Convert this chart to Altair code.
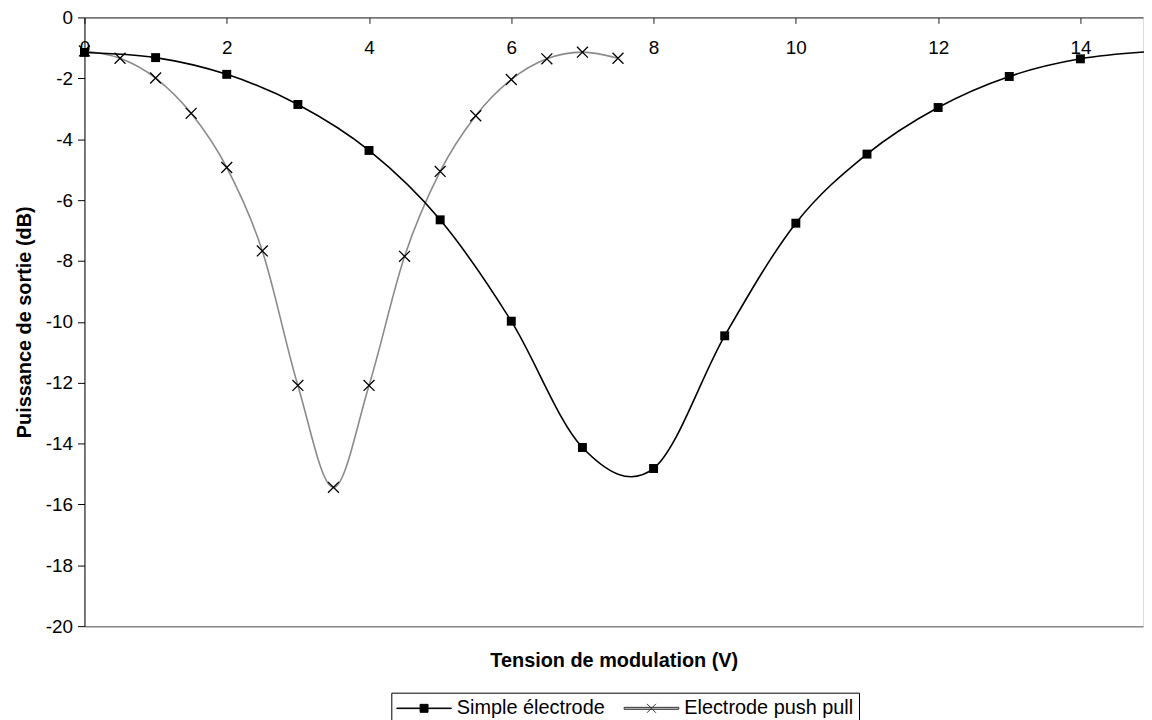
import altair as alt
import pandas as pd

# ---- data ----
series_names = ["Simple électrode", "Electrode push pull"]

simple_x = [0, 1, 2, 3, 4, 5, 6, 7, 8, 9, 10, 11, 12, 13, 14, 15]
simple_y = [-1.15, -1.32, -1.87, -2.86, -4.37, -6.65, -9.98, -14.13, -14.82,
            -10.46, -6.76, -4.49, -2.96, -1.94, -1.36, -1.12]

pp_x = [0, 0.5, 1, 1.5, 2, 2.5, 3, 3.5, 4, 4.5, 5, 5.5, 6, 6.5, 7, 7.5]
pp_y = [-1.10, -1.34, -1.99, -3.15, -4.93, -7.67, -12.09, -15.44, -12.09,
        -7.85, -5.06, -3.23, -2.04, -1.36, -1.14, -1.34]

x_ticks = [0, 2, 4, 6, 8, 10, 12, 14]
y_ticks = [-20, -18, -16, -14, -12, -10, -8, -6, -4, -2, 0]

df_s = pd.DataFrame({"x": simple_x, "y": simple_y, "entry": series_names[0]})
df_p = pd.DataFrame({"x": pp_x, "y": pp_y, "entry": series_names[1]})
df_all = pd.concat([df_s, df_p], ignore_index=True)

FONT = "Liberation Sans"
W, H = 1066, 613
PAD_L, PAD_T = 77, 7
SVG_W, SVG_H = 1144, 712

X_PATH = "M-1,-1L1,1M-1,1L1,-1"
LEG_SIMPLE = "M-1,-0.03L4.5,-0.03L4.5,0.03L-1,0.03Z M1.35,-0.4L2.15,-0.4L2.15,0.4L1.35,0.4Z"
LEG_PP = "M-1,-0.1L4.5,-0.1L4.5,0.1L-1,0.1Z M1.3,-0.45L2.2,0.45 M1.3,0.45L2.2,-0.45"

xscale = alt.Scale(domain=[0, 14.88], nice=False, zero=False)
yscale = alt.Scale(domain=[-20, 0], nice=False, zero=False)
ytitle = "Puissance de sortie (dB)"

y_axis = alt.Axis(values=y_ticks, grid=False, tickSize=7, labelPadding=5, labelFontSize=19,
                  labelExpr="'' + datum.value",
                  domainColor="#000000", tickColor="#000000", labelColor="#000000",
                  titleFontSize=20, titleFontWeight="bold", titleColor="#000000",
                  titlePadding=15, titleBaseline="alphabetic")

top_axis = alt.Axis(orient="bottom", offset=-H, values=x_ticks, grid=False, tickSize=6,
                    labelPadding=15, labelFontSize=19, labelColor="#000000",
                    domainColor="#222222", tickColor="#222222", title=None,
                    labelFlush=False, labelOverlap=False)

bottom_axis = alt.Axis(orient="bottom", labels=False, ticks=False, grid=False,
                       domainColor="#888888", domainWidth=1.5,
                       title="Tension de modulation (V)", titleFontSize=20,
                       titleFontWeight="bold", titleColor="#000000", titlePadding=25)

line_p = alt.Chart(df_p).mark_line(interpolate="cardinal", strokeWidth=1.6,
                                   color="#8a8a8a").encode(
    x=alt.X("x:Q", scale=xscale, axis=top_axis),
    y=alt.Y("y:Q", scale=yscale, axis=y_axis, title=ytitle),
)

line_s = alt.Chart(df_s).mark_line(interpolate="cardinal", strokeWidth=1.6,
                                   color="#000000").encode(
    x=alt.X("x:Q", scale=xscale, axis=None),
    y=alt.Y("y:Q", scale=yscale, title=ytitle),
)

pts_s = alt.Chart(df_s).mark_point(shape="square", filled=True, size=81,
                                   color="#000000", opacity=1).encode(
    x=alt.X("x:Q", scale=xscale, axis=bottom_axis),
    y=alt.Y("y:Q", scale=yscale, title=ytitle),
)

pts_p = alt.Chart(df_p).mark_point(shape=X_PATH, filled=False, size=121,
                                   stroke="#000000", strokeWidth=1.3, opacity=1).encode(
    x=alt.X("x:Q", scale=xscale, axis=None),
    y=alt.Y("y:Q", scale=yscale, title=ytitle),
)

leg = alt.Legend(title=None, orient="none", legendX=309, legendY=680,
                 direction="horizontal", columns=2, symbolSize=400,
                 symbolStrokeWidth=1, symbolOpacity=1, labelOffset=40,
                 columnPadding=17, labelFontSize=20, labelFont=FONT, labelLimit=0,
                 labelColor="#000000", padding=5, strokeColor="#000000",
                 fillColor="#ffffff")

# legend-only layer: its rows are filtered away, the legend comes from the scale domain
legend_layer = alt.Chart(df_all).transform_filter("datum.x < -100").mark_point(
    filled=True, size=400, opacity=1).encode(
    x=alt.X("x:Q", scale=xscale, axis=None),
    y=alt.Y("y:Q", scale=yscale, title=ytitle),
    shape=alt.Shape("entry:N", scale=alt.Scale(domain=series_names,
                                               range=[LEG_SIMPLE, LEG_PP]), legend=leg),
    fill=alt.Fill("entry:N", scale=alt.Scale(domain=series_names,
                                             range=["#000000", "#c4c4c4"]), legend=leg),
    stroke=alt.Stroke("entry:N", scale=alt.Scale(domain=series_names,
                                                 range=["#000000", "#333333"]), legend=leg),
)

chart = alt.layer(line_p, line_s, pts_s, pts_p, legend_layer).resolve_axis(
    x="independent"
).properties(
    width=W, height=H,
    autosize=alt.AutoSizeParams(type="none"),
    padding={"left": PAD_L, "top": PAD_T, "right": SVG_W - PAD_L - W,
             "bottom": SVG_H - PAD_T - H},
).configure_view(stroke=None).configure_axis(
    grid=False, labelFont=FONT, titleFont=FONT
).configure(background="#ffffff")

chart.save("out.html", embed_options={"renderer": "svg", "actions": False})
